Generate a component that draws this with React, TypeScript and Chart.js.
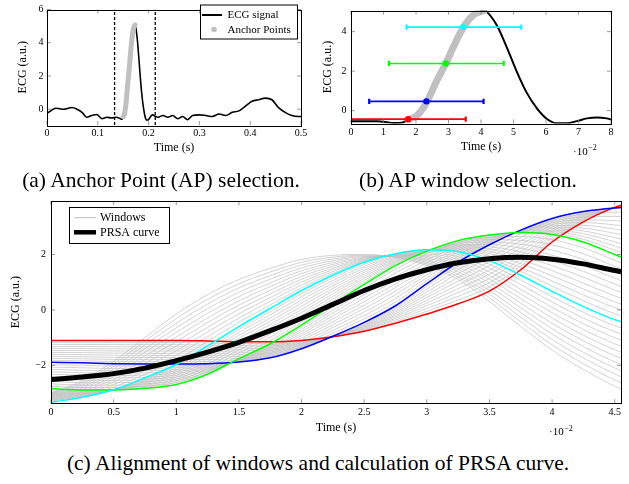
import React, { useEffect, useRef } from "react";
import { Chart, registerables } from "chart.js";

Chart.register(...registerables);

const SERIF = "'Liberation Serif', 'Times New Roman', serif";

// ---------------- Panel (a): ECG signal ----------------
const ecgTime = [0, 0.006, 0.017, 0.025, 0.033, 0.041, 0.049, 0.059, 0.069, 0.078, 0.088, 0.098, 0.108, 0.118, 0.127, 0.137, 0.143, 0.148, 0.150, 0.1527, 0.1558, 0.1589, 0.1617, 0.1640, 0.1671, 0.1702, 0.1727, 0.1735, 0.1743, 0.1774, 0.1804, 0.1835, 0.1866, 0.1897, 0.1928, 0.1958, 0.1989, 0.2020, 0.2051, 0.2082, 0.2112, 0.2184, 0.228, 0.2377, 0.2474, 0.2572, 0.2669, 0.2767, 0.2865, 0.2995, 0.3125, 0.3255, 0.3385, 0.3516, 0.3646, 0.3776, 0.3906, 0.4036, 0.4167, 0.4297, 0.4427, 0.4557, 0.4688, 0.4818, 0.4948, 0.5];
const ecgValue = [-0.25, -0.13, 0.06, 0.03, 0.0, 0.05, 0.10, 0.0, -0.19, -0.48, -0.38, -0.32, -0.57, -0.48, -0.53, -0.48, -0.55, -0.60, -0.45, -0.26, 0.43, 1.52, 2.40, 3.22, 4.23, 4.85, 5.04, 5.07, 5.00, 4.31, 3.22, 1.98, 0.90, 0.12, -0.42, -0.65, -0.65, -0.53, -0.39, -0.34, -0.39, -0.48, -0.38, -0.48, -0.38, -0.57, -0.44, -0.63, -0.38, -0.34, -0.38, -0.44, -0.29, -0.38, -0.19, -0.10, 0.19, 0.48, 0.57, 0.67, 0.57, 0.10, -0.19, -0.38, -0.44, -0.44];
const anchorTime = [0.150, 0.1527, 0.1558, 0.1589, 0.1617, 0.1640, 0.1671, 0.1702, 0.1727, 0.1735];
const anchorValue = [-0.45, -0.26, 0.43, 1.52, 2.40, 3.22, 4.23, 4.85, 5.04, 5.07];
const apSelectionBounds = [0.133, 0.213];
const panelAXTicks = [0, 0.1, 0.2, 0.3, 0.4, 0.5];
const panelAYTicks = [0, 2, 4, 6];

// ---------------- Panel (b): AP windows (time in 1e-2 s) ----------------
const zoomTime = [0, 0.4, 0.8, 1.05, 1.3, 1.56, 1.76, 2.02, 2.33, 2.64, 2.92, 3.15, 3.46, 3.77, 4.02, 4.1, 4.18, 4.49, 4.79, 5.1, 5.41, 5.72, 6.03, 6.33, 6.64, 6.95, 7.26, 7.57, 7.87, 8.0];
const zoomValue = [-0.53, -0.53, -0.54, -0.57, -0.62, -0.61, -0.45, -0.26, 0.43, 1.52, 2.40, 3.22, 4.23, 4.85, 5.04, 5.07, 5.00, 4.31, 3.22, 1.98, 0.90, 0.12, -0.42, -0.64, -0.64, -0.53, -0.39, -0.34, -0.39, -0.45];
const zoomAnchorTime = [1.76, 2.02, 2.33, 2.64, 2.92, 3.15, 3.46, 3.77, 4.02, 4.1];
const zoomAnchorValue = [-0.45, -0.26, 0.43, 1.52, 2.40, 3.22, 4.23, 4.85, 5.04, 5.07];
const apCenter = [1.76, 2.32, 2.92, 3.46];
const apLevel = [-0.43, 0.47, 2.39, 4.23];
const apWinStart = [0.0, 0.56, 1.17, 1.71];
const apWinEnd = [3.53, 4.08, 4.70, 5.24];
const panelBXTicks = [0, 1, 2, 3, 4, 5, 6, 7, 8];
const panelBYTicks = [0, 2, 4];

// ---------------- Panel (c): aligned windows (time in 1e-2 s) ----------------
const alignedTime = [0, 0.25, 0.5, 0.75, 1.0, 1.25, 1.5, 1.75, 2.0, 2.25, 2.5, 2.75, 3.0, 3.25, 3.5, 3.75, 4.0, 4.25, 4.5, 4.55];
const redWindow = [-1.10, -1.10, -1.10, -1.10, -1.10, -1.12, -1.15, -1.15, -1.10, -0.97, -0.77, -0.48, -0.15, 0.22, 0.68, 1.45, 2.45, 3.18, 3.70, 3.77];
const blueWindow = [-1.89, -1.91, -1.94, -1.95, -1.95, -1.94, -1.88, -1.73, -1.40, -0.95, -0.45, 0.15, 0.95, 1.72, 2.35, 2.88, 3.30, 3.55, 3.68, 3.69];
const greenWindow = [-2.84, -2.89, -2.89, -2.83, -2.69, -2.32, -1.76, -1.22, -0.55, 0.20, 0.92, 1.60, 2.12, 2.50, 2.70, 2.79, 2.72, 2.45, 2.00, 1.91];
const cyanWindow = [-3.33, -3.15, -2.88, -2.45, -1.97, -1.30, -0.60, 0.05, 0.70, 1.25, 1.72, 2.03, 2.17, 2.10, 1.78, 1.25, 0.67, 0.12, -0.35, -0.42];
const lastWindow = [-3.00, -2.55, -1.85, -1.00, -0.15, 0.55, 1.10, 1.50, 1.82, 1.97, 2.00, 1.90, 1.60, 1.10, 0.30, -0.60, -1.45, -2.15, -2.75, -2.85];
const prsaCurve = [-2.51, -2.42, -2.30, -2.10, -1.83, -1.52, -1.17, -0.75, -0.30, 0.20, 0.70, 1.12, 1.45, 1.70, 1.85, 1.90, 1.83, 1.66, 1.42, 1.38];
const windowsPerGap = 11;
const panelCXTicks = [0, 0.5, 1, 1.5, 2, 2.5, 3, 3.5, 4, 4.5];
const panelCYTicks = [-2, 0, 2];

// ---------------- styles ----------------
const AP_COLORS = ["#ff0000", "#0000ff", "#00ff00", "#00ffff"];
const GRAY = "#c0c0c0";
const TICK_SIZE = 10;
const TITLE_SIZE = 12;
const CAPTION_SIZE = 21.5;

const pts = (xs: number[], ys: number[]) => xs.map((x, i) => ({ x, y: ys[i] }));
const fmt = (v: number) => String(parseFloat(Number(v).toFixed(3))).replace("-", "\u2212");

function axis(spec: any) {
  return {
    type: "linear",
    min: spec.min,
    max: spec.max,
    position: spec.horizontal ? "bottom" : "left",
    grid: { display: false, drawTicks: false },
    border: { display: false },
    ticks: {
      padding: spec.labelPad,
      font: { family: SERIF, size: TICK_SIZE },
      color: "#000",
      maxRotation: 0,
      autoSkip: false,
      callback: (v: number) => fmt(v),
    },
    title: {
      display: true,
      text: spec.title,
      color: "#000",
      font: { family: SERIF, size: TITLE_SIZE },
      padding: spec.horizontal ? { top: 0, bottom: spec.titlePad } : { top: spec.titlePad, bottom: 0 },
    },
    afterBuildTicks: (s: any) => {
      s.ticks = spec.ticks.map((v: number) => ({ value: v }));
    },
    afterFit: (s: any) => {
      if (spec.horizontal) s.height = spec.size;
      else s.width = spec.size;
    },
  };
}

const framePlugin = {
  id: "pgfFrame",
  afterDraw(chart: any, _args: any, opts: any) {
    const { ctx, chartArea } = chart;
    const { left, right, top, bottom } = chartArea;
    const xs = chart.scales.x;
    const ys = chart.scales.y;
    const L = 4;
    ctx.save();
    ctx.strokeStyle = "#808080";
    ctx.lineWidth = 0.8;
    ctx.beginPath();
    xs.ticks.forEach((t: any) => {
      const p = xs.getPixelForValue(t.value);
      ctx.moveTo(p, bottom);
      ctx.lineTo(p, bottom - L);
      ctx.moveTo(p, top);
      ctx.lineTo(p, top + L);
    });
    ys.ticks.forEach((t: any) => {
      const p = ys.getPixelForValue(t.value);
      ctx.moveTo(left, p);
      ctx.lineTo(left + L, p);
      ctx.moveTo(right, p);
      ctx.lineTo(right - L, p);
    });
    ctx.stroke();
    ctx.strokeStyle = "#000";
    ctx.lineWidth = 1;
    ctx.strokeRect(Math.round(left) + 0.5, Math.round(top) + 0.5, Math.round(right - left), Math.round(bottom - top));

    const lg = opts && opts.legend;
    if (lg) {
      ctx.fillStyle = "#fff";
      ctx.fillRect(lg.x, lg.y, lg.w, lg.h);
      ctx.strokeStyle = "#000";
      ctx.lineWidth = 1;
      ctx.strokeRect(lg.x, lg.y, lg.w, lg.h);
      ctx.font = `${lg.fontSize}px ${SERIF}`;
      ctx.textBaseline = "middle";
      ctx.textAlign = "left";
      lg.items.forEach((it: any) => {
        if (it.kind === "line") {
          ctx.strokeStyle = it.color;
          ctx.lineWidth = it.width;
          ctx.beginPath();
          ctx.moveTo(lg.sx0, it.y);
          ctx.lineTo(lg.sx1, it.y);
          ctx.stroke();
        } else {
          ctx.fillStyle = it.color;
          ctx.beginPath();
          ctx.arc(it.dotX, it.y, it.r, 0, Math.PI * 2);
          ctx.fill();
        }
        ctx.fillStyle = "#000";
        ctx.fillText(it.label, lg.tx, it.y + 0.5);
      });
    }
    const ex = opts && opts.exponent;
    if (ex) {
      ctx.fillStyle = "#000";
      ctx.textAlign = "left";
      ctx.textBaseline = "alphabetic";
      ctx.font = `${ex.size}px ${SERIF}`;
      const base = "\u00b710";
      ctx.fillText(base, ex.x, ex.y);
      const w = ctx.measureText(base).width;
      ctx.font = `${ex.supSize}px ${SERIF}`;
      ctx.fillText("\u22122", ex.x + w + 0.5, ex.y - ex.raise);
    }
    ctx.restore();
  },
};

const baseOptions = (padding: any, scales: any, frame: any) => ({
  responsive: false,
  animation: false,
  devicePixelRatio: 1,
  events: [],
  layout: { padding },
  plugins: { legend: { display: false }, tooltip: { enabled: false }, pgfFrame: frame },
  scales,
});

function configA() {
  const datasets: any[] = [
    {
      data: pts(anchorTime, anchorValue),
      borderColor: GRAY,
      borderWidth: 5,
      borderCapStyle: "round",
      pointRadius: 0,
      cubicInterpolationMode: "monotone",
    },
    {
      data: pts(ecgTime, ecgValue),
      borderColor: "#000",
      borderWidth: 1.6,
      pointRadius: 0,
      cubicInterpolationMode: "monotone",
    },
    ...apSelectionBounds.map((b) => ({
      data: [{ x: b, y: -0.95 }, { x: b, y: 6 }],
      borderColor: "#000",
      borderWidth: 1.3,
      borderDash: [3, 2],
      pointRadius: 0,
    })),
  ];
  return {
    type: "line",
    data: { datasets },
    options: baseOptions(
      { left: 0, top: 4, right: 7, bottom: 0 },
      {
        x: axis({ horizontal: true, min: 0, max: 0.5, ticks: panelAXTicks, size: 35, title: "Time (s)", titlePad: 4.8, labelPad: 2.7 }),
        y: axis({ horizontal: false, min: -0.95, max: 6, ticks: panelAYTicks, size: 47, title: "ECG (a.u.)", titlePad: 15.8, labelPad: 3.5 }),
      },
      {
        legend: {
          x: 200.5, y: 5, w: 97, h: 34, fontSize: 11, sx0: 202, sx1: 222, tx: 227.5,
          items: [
            { label: "ECG signal", kind: "line", color: "#000", width: 2, y: 15 },
            { label: "Anchor Points", kind: "dot", color: GRAY, r: 2.8, dotX: 214, y: 29.5 },
          ],
        },
      }
    ),
    plugins: [framePlugin],
  };
}

function configB() {
  const dots = apCenter.map((c, i) => ({
    data: [{ x: c, y: apLevel[i] }],
    showLine: false,
    pointRadius: 3.2,
    pointBackgroundColor: AP_COLORS[i],
    pointBorderWidth: 0,
  }));
  const bars = apCenter.map((_c, i) => ({
    data: [{ x: apWinStart[i], y: apLevel[i] }, { x: apWinEnd[i], y: apLevel[i] }],
    borderColor: AP_COLORS[i],
    borderWidth: 1.6,
    pointStyle: "line",
    pointRotation: 90,
    pointRadius: 2.6,
    pointBorderWidth: 2.2,
    pointBorderColor: AP_COLORS[i],
    pointBackgroundColor: AP_COLORS[i],
  }));
  const datasets: any[] = [
    ...dots,
    ...bars,
    {
      data: pts(zoomAnchorTime, zoomAnchorValue),
      borderColor: GRAY,
      borderWidth: 7,
      borderCapStyle: "round",
      pointRadius: 0,
      cubicInterpolationMode: "monotone",
    },
    {
      data: pts(zoomTime, zoomValue),
      borderColor: "#000",
      borderWidth: 2,
      pointRadius: 0,
      cubicInterpolationMode: "monotone",
    },
  ];
  return {
    type: "line",
    data: { datasets },
    options: baseOptions(
      { left: 0, top: 0.5, right: 18, bottom: 0 },
      {
        x: axis({ horizontal: true, min: 0, max: 8, ticks: panelBXTicks, size: 36.5, title: "Time (s)", titlePad: 6.1, labelPad: 2.7 }),
        y: axis({ horizontal: false, min: -0.65, max: 5.07, ticks: panelBYTicks, size: 41, title: "ECG (a.u.)", titlePad: 11.1, labelPad: 4.5 }),
      },
      { exponent: { x: 263, y: 154.5, size: 11, supSize: 8, raise: 4.5 } }
    ),
    plugins: [framePlugin],
  };
}

function configC() {
  const keyWindows = [redWindow, blueWindow, greenWindow, cyanWindow, lastWindow];
  const grayWindows: number[][] = [];
  for (let k = 0; k < keyWindows.length - 1; k++) {
    const a = keyWindows[k];
    const b = keyWindows[k + 1];
    for (let s = 1; s < windowsPerGap; s++) {
      const f = s / windowsPerGap;
      grayWindows.push(a.map((v, i) => v + (b[i] - v) * f));
    }
  }
  grayWindows.push(lastWindow);
  const colored = [cyanWindow, greenWindow, blueWindow, redWindow];
  const coloredColors = [AP_COLORS[3], AP_COLORS[2], AP_COLORS[1], AP_COLORS[0]];
  const datasets: any[] = [
    {
      data: pts(alignedTime, prsaCurve),
      borderColor: "#000",
      borderWidth: 5,
      pointRadius: 0,
      cubicInterpolationMode: "monotone",
    },
    ...colored.map((w, i) => ({
      data: pts(alignedTime, w),
      borderColor: coloredColors[i],
      borderWidth: 1.5,
      pointRadius: 0,
      cubicInterpolationMode: "monotone",
    })),
    ...grayWindows.map((w) => ({
      data: pts(alignedTime, w),
      borderColor: GRAY,
      borderWidth: 0.7,
      pointRadius: 0,
      cubicInterpolationMode: "monotone",
    })),
  ];
  return {
    type: "line",
    data: { datasets },
    options: baseOptions(
      { left: 0, top: 11, right: 8, bottom: 0 },
      {
        x: axis({ horizontal: true, min: 0, max: 4.55, ticks: panelCXTicks, size: 36.7, title: "Time (s)", titlePad: 4.8, labelPad: 2.7 }),
        y: axis({ horizontal: false, min: -3.37, max: 3.93, ticks: panelCYTicks, size: 51, title: "ECG (a.u.)", titlePad: 8.8, labelPad: 5 }),
      },
      {
        legend: {
          x: 69.5, y: 17.5, w: 100, h: 36, fontSize: 12, sx0: 74, sx1: 96, tx: 100,
          items: [
            { label: "Windows", kind: "line", color: "#bdbdbd", width: 1, y: 27.7 },
            { label: "PRSA curve", kind: "line", color: "#000", width: 4.5, y: 42.3 },
          ],
        },
        exponent: { x: 549, y: 245.3, size: 11, supSize: 8, raise: 4.5 },
      }
    ),
    plugins: [framePlugin],
  };
}

function ChartBox(props: { left: number; top: number; width: number; height: number; make: () => any }) {
  const ref = useRef<HTMLCanvasElement | null>(null);
  useEffect(() => {
    const chart = new Chart(ref.current as HTMLCanvasElement, props.make());
    return () => chart.destroy();
  }, []);
  return (
    <canvas
      ref={ref}
      width={props.width}
      height={props.height}
      style={{ position: "absolute", left: props.left, top: props.top, width: props.width, height: props.height }}
    />
  );
}

function Caption(props: { cx: number; cy: number; text: string; size: number }) {
  return (
    <div
      style={{
        position: "absolute",
        left: props.cx - 300,
        top: props.cy - 15,
        width: 600,
        height: 30,
        lineHeight: "30px",
        textAlign: "center",
        fontFamily: SERIF,
        fontSize: props.size,
        color: "#000",
        whiteSpace: "nowrap",
      }}
    >
      {props.text}
    </div>
  );
}

export default function App() {
  return (
    <div style={{ position: "absolute", left: 0, top: 0, width: 629, height: 484, background: "#fff", overflow: "hidden" }}>
      <ChartBox left={0} top={0} width={310} height={160} make={configA} />
      <ChartBox left={310} top={0} width={319} height={160} make={configB} />
      <ChartBox left={0} top={190} width={629} height={250} make={configC} />
      <Caption cx={161} cy={180} size={CAPTION_SIZE} text="(a) Anchor Point (AP) selection." />
      <Caption cx={468} cy={180} size={CAPTION_SIZE} text="(b) AP window selection." />
      <Caption cx={318} cy={463} size={CAPTION_SIZE} text="(c) Alignment of windows and calculation of PRSA curve." />
    </div>
  );
}
